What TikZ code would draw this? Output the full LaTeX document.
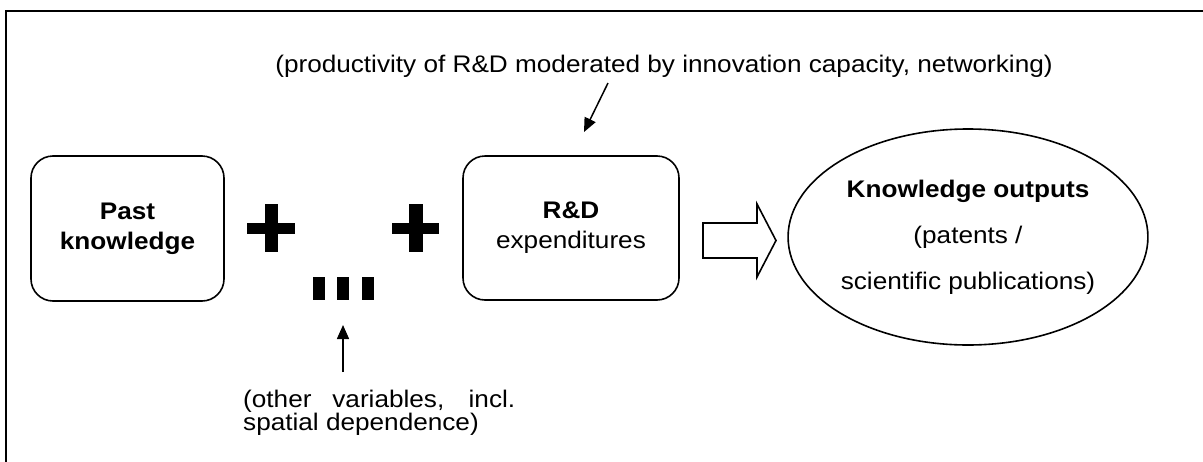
\documentclass[tikz,border=0pt]{standalone}
\usepackage{fontspec}
\setmainfont{Liberation Sans}[FakeStretch=1.09]
\usetikzlibrary{arrows.meta,shapes.geometric}
\begin{document}
\begin{tikzpicture}[x=1pt,y=-1pt,
  rbox/.style={draw, line width=1.6pt, rounded corners=22pt, align=center, inner sep=0pt,
    font=\fontsize{24}{30}\selectfont},
  outbox/.style={draw, ellipse, line width=1.6pt, inner sep=0pt, align=center,
    minimum width=336pt, minimum height=216pt, font=\fontsize{24}{46}\selectfont},
  lbl/.style={inner sep=0pt, font=\fontsize{24}{23}\selectfont},
  conn/.style={line width=1.5pt, -{Triangle[length=14pt,width=12pt]}},
  frameline/.style={line width=2pt},
  blockarrow/.style={draw, line width=1.6pt, fill=white, line join=miter}
]
\useasboundingbox (0,0) rectangle (1203,461);
% outer frame (top and left visible)
\draw[frameline] (5.5,470) -- (5.5,11) -- (1210,11);

% top label
\node[lbl, anchor=base] (toplbl) at (664,72) {(productivity of R\&D moderated by innovation capacity, networking)};

% boxes
\node[rbox, minimum width=193pt, minimum height=145pt] (past) at (127.5,228.5) {\bfseries Past\\\bfseries knowledge};
\node[rbox, minimum width=216pt, minimum height=144pt] (rd) at (571,228) {\bfseries R\&D\\expenditures};
\node[outbox] (out) at (968,237) {\bfseries Knowledge outputs\\(patents /\\scientific publications)};

% plus signs
\fill (247,223) rectangle (295,234);
\fill (265,204) rectangle (278,252);
\fill (392,223) rectangle (439,234);
\fill (409,204) rectangle (423,252);

% dots
\node[fill, inner sep=0pt, minimum width=12pt, minimum height=23pt] (d1) at (319,288.5) {};
\node[fill, inner sep=0pt, minimum width=12pt, minimum height=23pt] (d2) at (343,288.5) {};
\node[fill, inner sep=0pt, minimum width=12pt, minimum height=23pt] (d3) at (367.5,288.5) {};

% bottom label
\node[lbl, anchor=north west, text width=272pt, align=justify] (botlbl) at (243,390)
  {(other variables, incl. spatial dependence)};

% arrows
\coordinate (upstart) at (343,372);
\coordinate (uptip) at (343,325);
\draw[conn] (upstart) -- (uptip);
\coordinate (slstart) at (608,83);
\coordinate (sltip) at (584,132);
\draw[conn] (slstart) -- (sltip);

% block arrow
\draw[blockarrow] (703,223) -- (757,223) -- (757,204) -- (776,240.5) -- (757,277) -- (757,258) -- (703,258) -- cycle;
\end{tikzpicture}
\end{document}
